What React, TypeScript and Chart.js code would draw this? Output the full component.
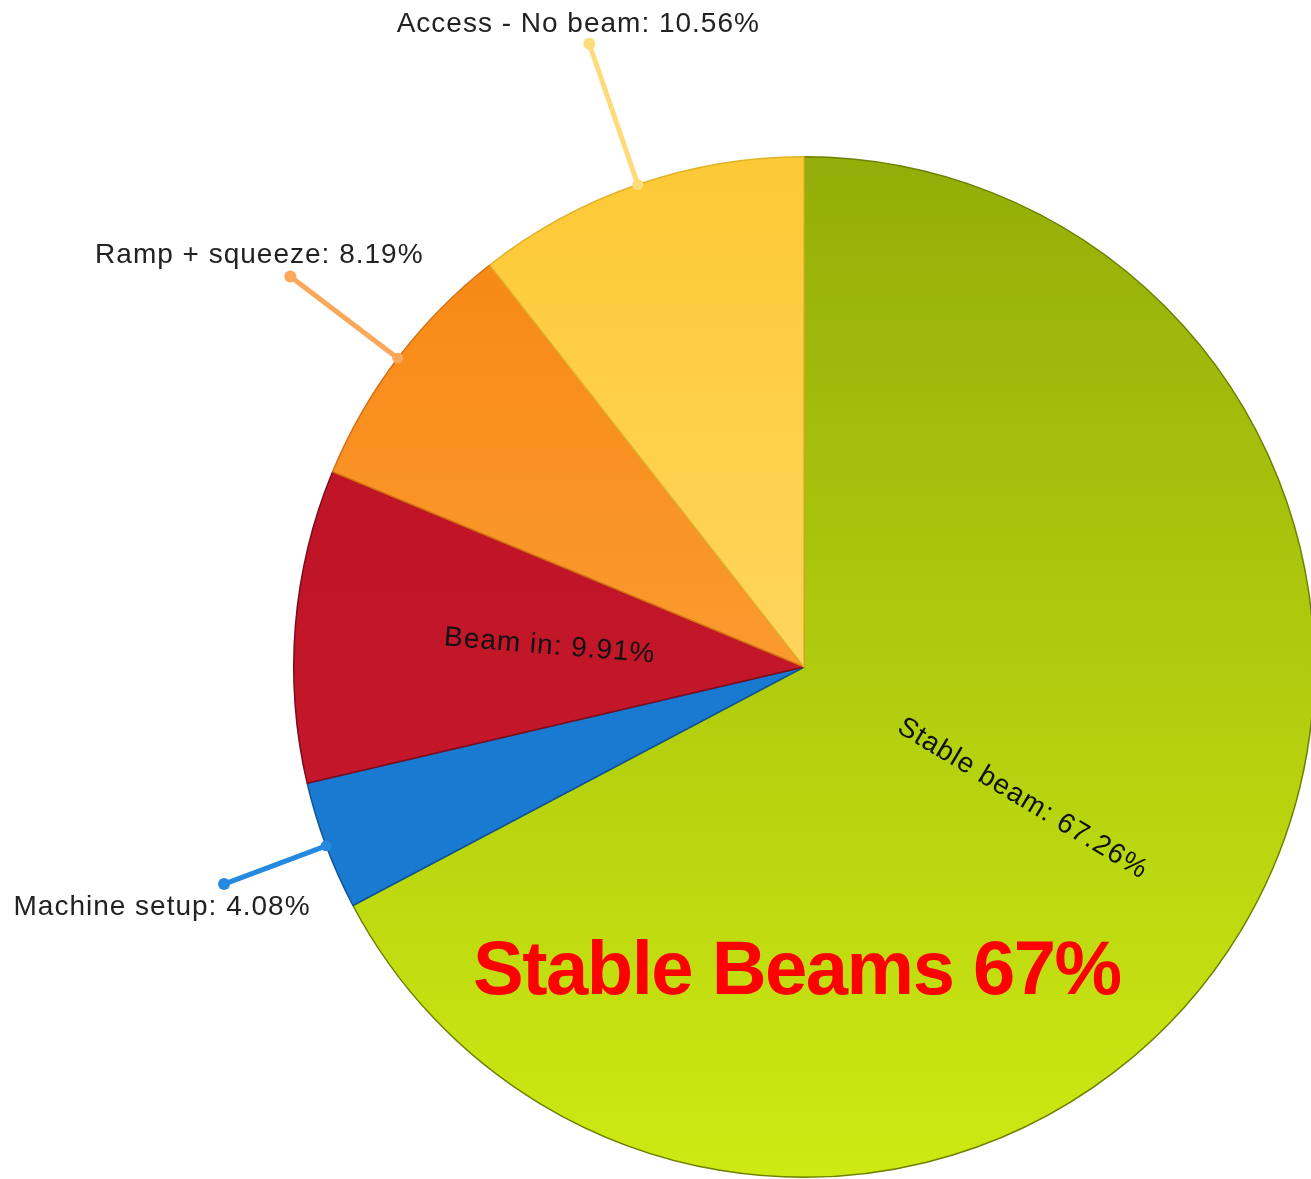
import React, { useEffect, useRef } from "react";
import { Chart, registerables } from "chart.js";

Chart.register(...registerables);

// ---- data ----
const categories = ["Stable beam", "Machine setup", "Beam in", "Ramp + squeeze", "Access - No beam"];
const shares = [67.26, 4.08, 9.91, 8.19, 10.56];
const headline = "Stable Beams 67%";

// ---- styles ----
const topColors = ["#93ad09", "#1877cf", "#b81222", "#f7850f", "#fdc935"];
const bottomColors = ["#cdea13", "#1b7cd3", "#cc1a30", "#fdb050", "#ffe184"];
const borderColors = ["#6e8000", "#0f5596", "#7c0c1c", "#d87012", "#e2b22a"];
const leaderColors = ["", "#2689e0", "", "#fca85a", "#fedc7c"];
const labelInside = [true, false, true, false, false];
const leaderLength = [0, 109, 0, 135, 149];
const labelDx = [0, -62, 0, -31, -11];
const labelDy = [0, 31, 0, -14, -12];

const FONT = '"Liberation Sans", Arial, sans-serif';

const labelPlugin = {
  id: "sliceLabels",
  afterDatasetsDraw(chart: any) {
    const ctx: CanvasRenderingContext2D = chart.ctx;
    const meta = chart.getDatasetMeta(0);
    meta.data.forEach((arc: any, i: number) => {
      const { x, y, startAngle, endAngle, outerRadius } = arc.getProps(
        ["x", "y", "startAngle", "endAngle", "outerRadius"],
        true
      );
      const mid = (startAngle + endAngle) / 2;
      const cos = Math.cos(mid);
      const sin = Math.sin(mid);
      const text = `${categories[i]}: ${shares[i].toFixed(2)}%`;
      ctx.save();
      ctx.font = `28px ${FONT}`;
      (ctx as any).letterSpacing = "1px";
      if (labelInside[i]) {
        const px = x + outerRadius * 0.5 * cos;
        const py = y + outerRadius * 0.5 * sin;
        let rot = mid;
        while (rot > Math.PI) rot -= 2 * Math.PI;
        while (rot < -Math.PI) rot += 2 * Math.PI;
        if (rot > Math.PI / 2 || rot < -Math.PI / 2) rot += Math.PI;
        ctx.translate(px, py);
        ctx.rotate(rot);
        ctx.fillStyle = "#111";
        ctx.textAlign = "center";
        ctx.textBaseline = "middle";
        ctx.fillText(text, 0, 0);
      } else {
        const sx = x + outerRadius * cos;
        const sy = y + outerRadius * sin;
        const ex = x + (outerRadius + leaderLength[i]) * cos;
        const ey = y + (outerRadius + leaderLength[i]) * sin;
        ctx.strokeStyle = leaderColors[i];
        ctx.fillStyle = leaderColors[i];
        ctx.lineWidth = 5;
        ctx.lineCap = "round";
        ctx.beginPath();
        ctx.moveTo(sx, sy);
        ctx.lineTo(ex, ey);
        ctx.stroke();
        ctx.beginPath();
        ctx.arc(ex, ey, 6, 0, Math.PI * 2);
        ctx.fill();
        ctx.beginPath();
        ctx.arc(sx, sy, 5.5, 0, Math.PI * 2);
        ctx.fill();
        ctx.fillStyle = "#222";
        ctx.textAlign = "center";
        ctx.textBaseline = "alphabetic";
        ctx.fillText(text, ex + labelDx[i], ey + labelDy[i]);
      }
      ctx.restore();
    });
  },
};

export default function App() {
  const canvasRef = useRef<HTMLCanvasElement | null>(null);

  useEffect(() => {
    const canvas = canvasRef.current;
    if (!canvas) return;
    const chart = new Chart(canvas, {
      type: "pie",
      data: {
        labels: categories,
        datasets: [
          {
            data: shares,
            backgroundColor: (c: any) => {
              const i = c.dataIndex ?? 0;
              const area = c.chart.chartArea;
              if (!area) return topColors[i];
              const g = c.chart.ctx.createLinearGradient(0, area.top, 0, area.bottom);
              g.addColorStop(0, topColors[i]);
              g.addColorStop(1, bottomColors[i]);
              return g;
            },
            borderColor: borderColors,
            borderWidth: 1.5,
          },
        ],
      },
      options: {
        responsive: false,
        animation: false,
        layout: { padding: 156 },
        plugins: {
          legend: { display: false },
          tooltip: { enabled: false },
        },
      },
      plugins: [labelPlugin],
    });
    return () => chart.destroy();
  }, []);

  return (
    <div
      style={{
        position: "absolute",
        left: 0,
        top: 0,
        width: 1311,
        height: 1179,
        overflow: "hidden",
        background: "#ffffff",
      }}
    >
      <canvas ref={canvasRef} width={1608} height={1334} style={{ display: "block" }} />
      <div
        style={{
          position: "absolute",
          left: 473,
          top: 930,
          font: `bold 76px ${FONT}`,
          lineHeight: "76px",
          letterSpacing: "-1.5px",
          color: "#ff0000",
          whiteSpace: "nowrap",
        }}
      >
        {headline}
      </div>
    </div>
  );
}
